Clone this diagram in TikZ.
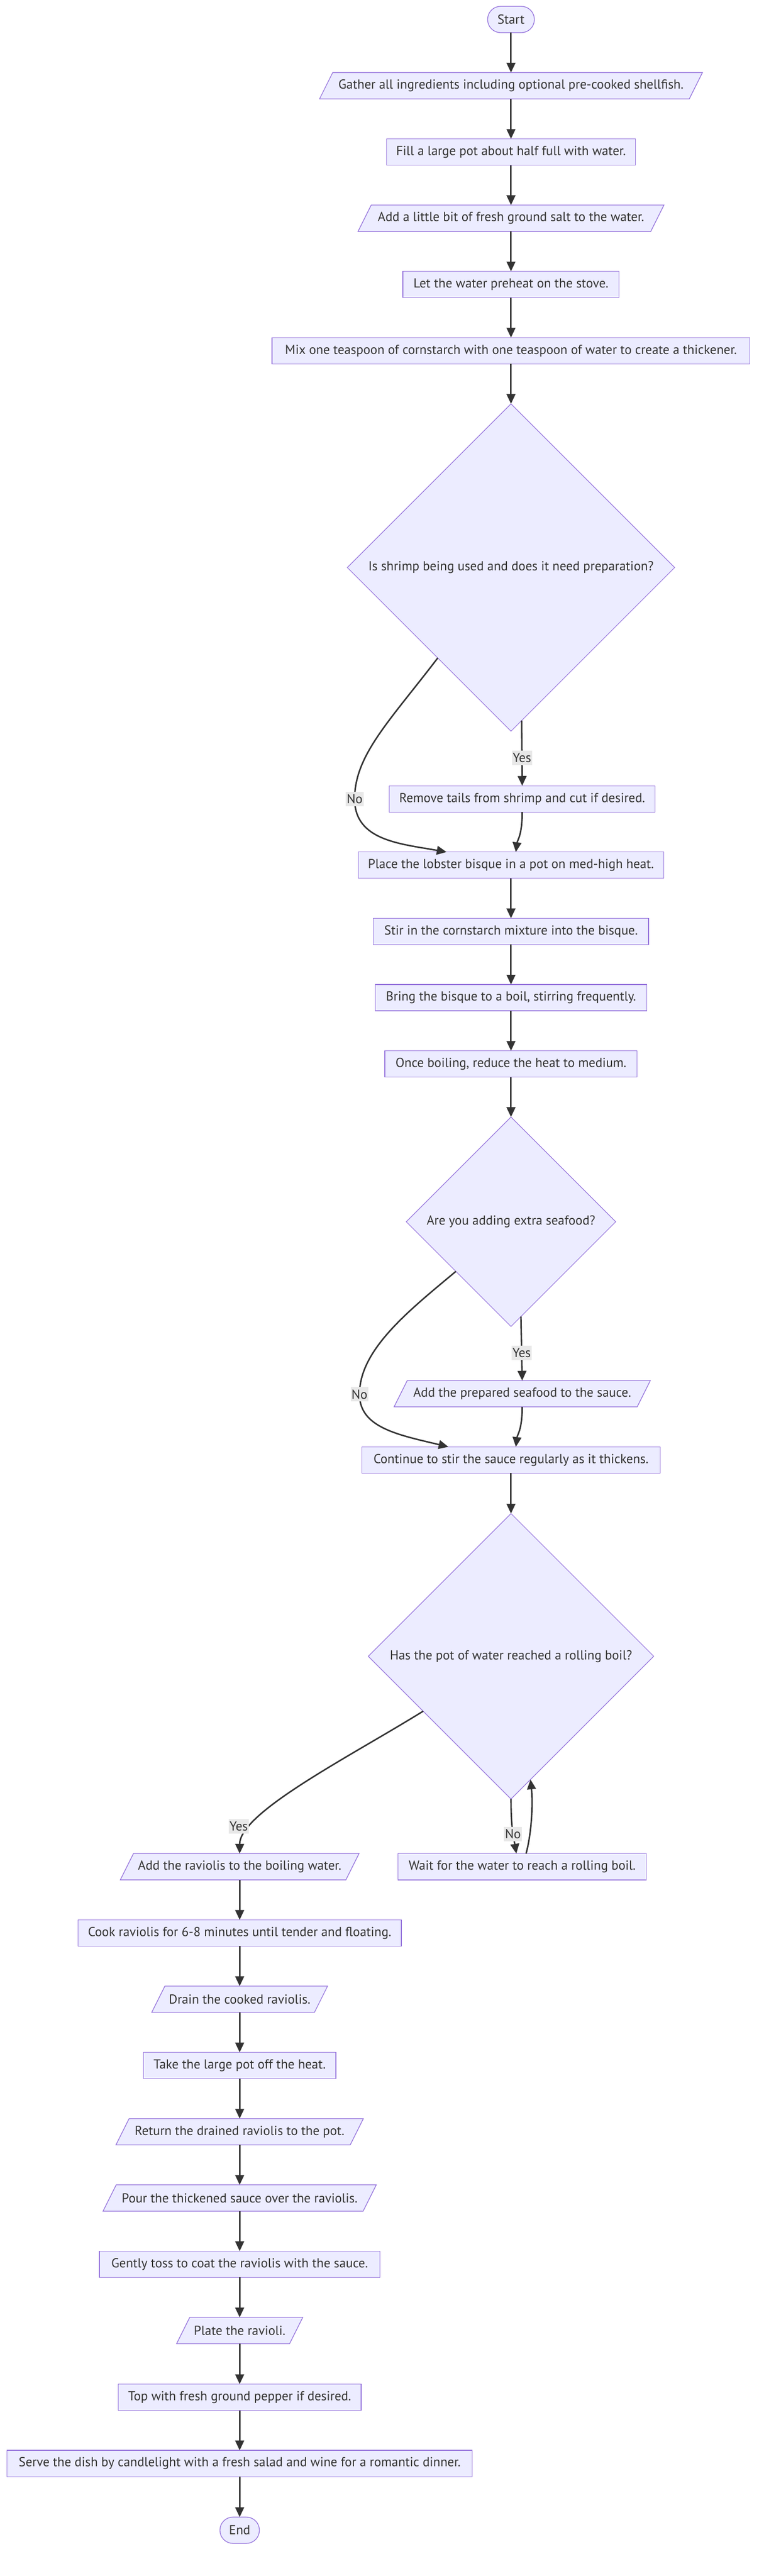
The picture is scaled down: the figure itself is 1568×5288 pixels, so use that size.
\documentclass[tikz,border=0pt]{standalone}
\usepackage{fontspec}
\setmainfont{PT Sans}
\usetikzlibrary{arrows.meta,shapes.geometric,calc,backgrounds}
\definecolor{nodefill}{HTML}{ECECFF}
\definecolor{nodeline}{HTML}{9370DB}
\definecolor{edgecol}{HTML}{333333}
\definecolor{txtcol}{HTML}{333333}
\definecolor{lblfill}{HTML}{E8E8E8}
\tikzset{
  base/.style={font=\fontsize{13.4}{16}\selectfont, text=txtcol, inner sep=0pt, outer sep=0pt, minimum height=27pt, anchor=center},
  procbox/.style={base, rectangle, draw=nodeline, fill=nodefill, line width=0.7pt},
  termbox/.style={procbox, rounded corners=13.4pt},
  iobox/.style={base, rectangle},
  decbox/.style={base, diamond, aspect=1, draw=nodeline, fill=nodefill, line width=0.6pt},
  flow/.style={draw=edgecol, line width=1.5pt, -{Triangle[length=10pt,width=9pt]}},
  lbl/.style={font=\fontsize{13.4}{16}\selectfont, text=txtcol, fill=lblfill, inner xsep=1pt, inner ysep=0pt, minimum height=15pt},
}
\newcommand\iopara[1]{%
  \begin{pgfonlayer}{background}
  \filldraw[draw=nodeline, fill=nodefill, line width=0.7pt]
    ([xshift=6.75pt]#1.north west) -- ([xshift=6.75pt]#1.north east) --
    ([xshift=-6.75pt]#1.south east) -- ([xshift=-6.75pt]#1.south west) -- cycle;
  \end{pgfonlayer}}
\begin{document}
\begin{tikzpicture}[x=0.5pt,y=-0.5pt]
\begin{pgfonlayer}{background}
\fill[white] (0,0) rectangle (1568,5288);
\end{pgfonlayer}
\useasboundingbox (0,0) rectangle (1568,5288);

% upper column
\node[termbox, minimum width=48pt] (start) at (1049,40) {Start};
\node[iobox, minimum width=379.5pt] (gather) at (1049,176) {Gather all ingredients including optional pre-cooked shellfish.};
\node[procbox, minimum width=255.5pt] (fill) at (1049,312) {Fill a large pot about half full with water.};
\node[iobox, minimum width=300.5pt] (salt) at (1049,448) {Add a little bit of fresh ground salt to the water.};
\node[procbox, minimum width=222pt] (preheat) at (1049,584) {Let the water preheat on the stove.};
\node[procbox, minimum width=490.5pt] (mix) at (1049,720) {Mix one teaspoon of cornstarch with one teaspoon of water to create a thickener.};
\node[decbox, minimum width=336pt, minimum height=336pt] (d1) at (1049,1165) {Is shrimp being used and does it need preparation?};
\node[procbox, minimum width=273pt] (remove) at (1072,1640) {Remove tails from shrimp and cut if desired.};
\node[procbox, minimum width=313.5pt] (place) at (1049,1776) {Place the lobster bisque in a pot on med-high heat.};
\node[procbox, minimum width=282.5pt] (stir) at (1049,1912) {Stir in the cornstarch mixture into the bisque.};
\node[procbox, minimum width=278.5pt] (bring) at (1049,2048) {Bring the bisque to a boil, stirring frequently.};
\node[procbox, minimum width=259pt] (reduce) at (1049,2184) {Once boiling, reduce the heat to medium.};
\node[decbox, minimum width=215pt, minimum height=215pt] (d2) at (1049,2508) {Are you adding extra seafood?};
\node[iobox, minimum width=249.5pt] (seafood) at (1072,2861) {Add the prepared seafood to the sauce.};
\node[procbox, minimum width=306pt] (continue) at (1049,2997) {Continue to stir the sauce regularly as it thickens.};
\node[decbox, minimum width=293pt, minimum height=293pt] (d3) at (1049,3400) {Has the pot of water reached a rolling boil?};
\node[procbox, minimum width=255pt] (wait) at (1072,3832) {Wait for the water to reach a rolling boil.};

% lower column
\node[iobox, minimum width=231.5pt] (ravioli) at (492,3832) {Add the raviolis to the boiling water.};
\node[procbox, minimum width=332pt] (cook) at (492,3968) {Cook raviolis for 6-8 minutes until tender and floating.};
\node[iobox, minimum width=167pt] (drain) at (492,4104) {Drain the cooked raviolis.};
\node[procbox, minimum width=197.5pt] (take) at (492,4240) {Take the large pot off the heat.};
\node[iobox, minimum width=240.5pt] (return) at (492,4376) {Return the drained raviolis to the pot.};
\node[iobox, minimum width=267pt] (pour) at (492,4512) {Pour the thickened sauce over the raviolis.};
\node[procbox, minimum width=288pt] (toss) at (492,4648) {Gently toss to coat the raviolis with the sauce.};
\node[iobox, minimum width=116pt] (plate) at (492,4784) {Plate the ravioli.};
\node[procbox, minimum width=249.5pt] (pepper) at (492,4921) {Top with fresh ground pepper if desired.};
\node[procbox, minimum width=477.5pt] (serve) at (492,5057) {Serve the dish by candlelight with a fresh salad and wine for a romantic dinner.};
\node[termbox, minimum width=40.5pt] (end) at (492,5194) {End};

\iopara{gather}
\iopara{salt}
\iopara{seafood}
\iopara{ravioli}
\iopara{drain}
\iopara{return}
\iopara{pour}
\iopara{plate}

% connectors
\draw[flow] (start.south) -- (gather.north);
\draw[flow] (gather.south) -- (fill.north);
\draw[flow] (fill.south) -- (salt.north);
\draw[flow] (salt.south) -- (preheat.north);
\draw[flow] (preheat.south) -- (mix.north);
\draw[flow] (mix.south) -- (d1.north);
\draw[flow] (d1.-86.6) -- node[lbl, pos=0.57] (yes1) {Yes} (remove.north);
\draw[flow] (d1.-129.5) .. controls (800,1480) and (728,1550) .. (728,1640)
  node[lbl] (no1) {No}
  .. controls (728,1725) and (820,1732) .. ($(place.north west)!0.289!(place.north east)$);
\draw[flow] (remove.south) .. controls (1072,1715) and (1062,1725) .. ([xshift=5pt]place.north);
\draw[flow] (place.south) -- (stir.north);
\draw[flow] (stir.south) -- (bring.north);
\draw[flow] (bring.south) -- (reduce.north);
\draw[flow] (reduce.south) -- (d2.north);
\draw[flow] (d2.-84.8) -- node[lbl, pos=0.57] (yes2) {Yes} (seafood.north);
\draw[flow] (d2.-138.7) .. controls (840,2690) and (738,2770) .. (738,2862)
  node[lbl] (no2) {No}
  .. controls (738,2930) and (815,2945) .. ($(continue.north west)!0.29!(continue.north east)$);
\draw[flow] (seafood.south) .. controls (1072,2935) and (1062,2945) .. ([xshift=5pt]continue.north);
\draw[flow] (continue.south) -- (d3.north);
\draw[flow] (d3.-148.1) .. controls (720,3605) and (492,3720) .. (ravioli.north);
\node[lbl] (yes3) at (490,3749) {Yes};
\draw[flow] (d3.south) .. controls (1049,3760) and (1056,3780) .. ([xshift=-6pt]wait.north)
  node[lbl, pos=0.5] (no3) {No};
\draw[flow] ([xshift=4pt]wait.north) .. controls (1092,3760) and (1094,3700) .. (d3.-81.5);
\draw[flow] (ravioli.south) -- (cook.north);
\draw[flow] (cook.south) -- (drain.north);
\draw[flow] (drain.south) -- (take.north);
\draw[flow] (take.south) -- (return.north);
\draw[flow] (return.south) -- (pour.north);
\draw[flow] (pour.south) -- (toss.north);
\draw[flow] (toss.south) -- (plate.north);
\draw[flow] (plate.south) -- (pepper.north);
\draw[flow] (pepper.south) -- (serve.north);
\draw[flow] (serve.south) -- (end.north);
\end{tikzpicture}
\end{document}
